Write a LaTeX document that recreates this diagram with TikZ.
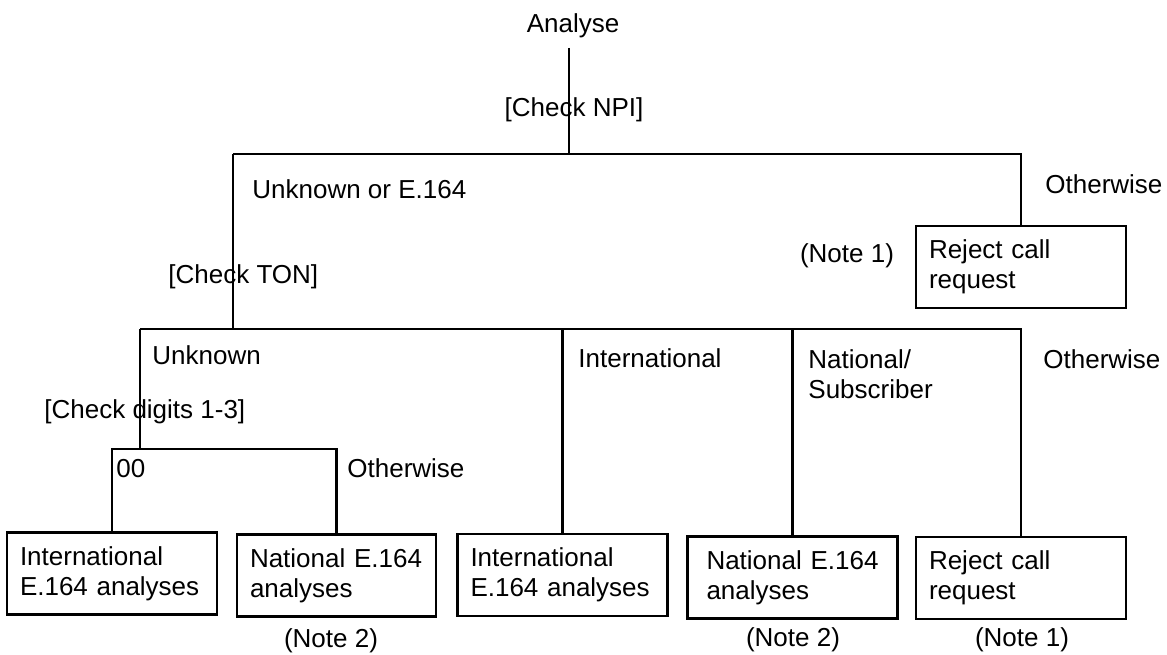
\documentclass[tikz,border=0pt]{standalone}
\usepackage{fontspec}
\setmainfont{Liberation Sans}
\begin{document}
\begin{tikzpicture}[x=0.5pt,y=-0.5pt,
  every node/.style={font=\fontsize{13pt}{15pt}\selectfont},
  lbl/.style={inner sep=0pt, anchor=base west},
  clbl/.style={inner sep=0pt, anchor=base},
  leaf/.style={draw, line width=1.3pt, rectangle, align=left, inner xsep=6.5pt, inner ysep=0pt, minimum height=41pt, text width=#1},
  leaf/.default=92pt,
  conn/.style={line width=1.3pt}]
\useasboundingbox (0,0) rectangle (1167,654);

% root
\node[clbl] (analyse) at (573,32) {Analyse};
\coordinate (j1) at (569,154);
\coordinate (k1) at (233,154);
\coordinate (k2) at (233,329);
\coordinate (k3) at (140,329);
\coordinate (k4) at (140,449);

% boxes
\node[leaf] (R1) at (1021,267) {Reject call\\request};
\node[leaf] (A) at (112,573.5) {International\\E.164 analyses};
\node[leaf=86.5pt] (B) at (336.5,575.5) {National E.164\\analyses};
\node[leaf] (C) at (562.5,575) {International\\E.164 analyses};
\node[leaf] (D) at (792.5,577.5) {\hspace*{3pt}National E.164\\\hspace*{3pt}analyses};
\node[leaf] (E) at (1021,578) {Reject call\\request};

% connectors
\draw[conn] (analyse.south -| j1) ++(0,10) -- (j1);
\draw[conn] (k1) -| (R1.north);
\draw[conn] (k1) -- (k2);
\draw[conn] (k3) -| (E.north);
\draw[conn] (C.north |- k3) -- (C.north);
\draw[conn] (D.north |- k3) -- (D.north);
\draw[conn] (k3) -- (k4);
\draw[conn] (A.north) |- (k4) -| (B.north);

% labels
\node[clbl] (npi) at (574,116) {[Check NPI]};
\node[lbl] (unkE) at (252,198) {Unknown or E.164};
\node[lbl] (oth1) at (1045,193) {Otherwise};
\node[clbl] (note1a) at (847,262) {(Note 1)};
\node[lbl] (ton) at (168,283) {[Check TON]};
\node[lbl] (unk) at (152,364) {Unknown};
\node[lbl] (intl) at (578,367) {International};
\node[lbl, align=left, anchor=north west] (nat) at (808,349) {National/\\Subscriber};
\node[lbl] (oth2) at (1043,368) {Otherwise};
\node[lbl] (dig) at (44,418) {[Check digits 1-3]};
\node[lbl] (zz) at (116,477) {00};
\node[lbl] (oth3) at (347,477) {Otherwise};
\node[clbl] (note2a) at (331,647) {(Note 2)};
\node[clbl] (note2b) at (793,646) {(Note 2)};
\node[clbl] (note1b) at (1022,646) {(Note 1)};
\end{tikzpicture}
\end{document}
